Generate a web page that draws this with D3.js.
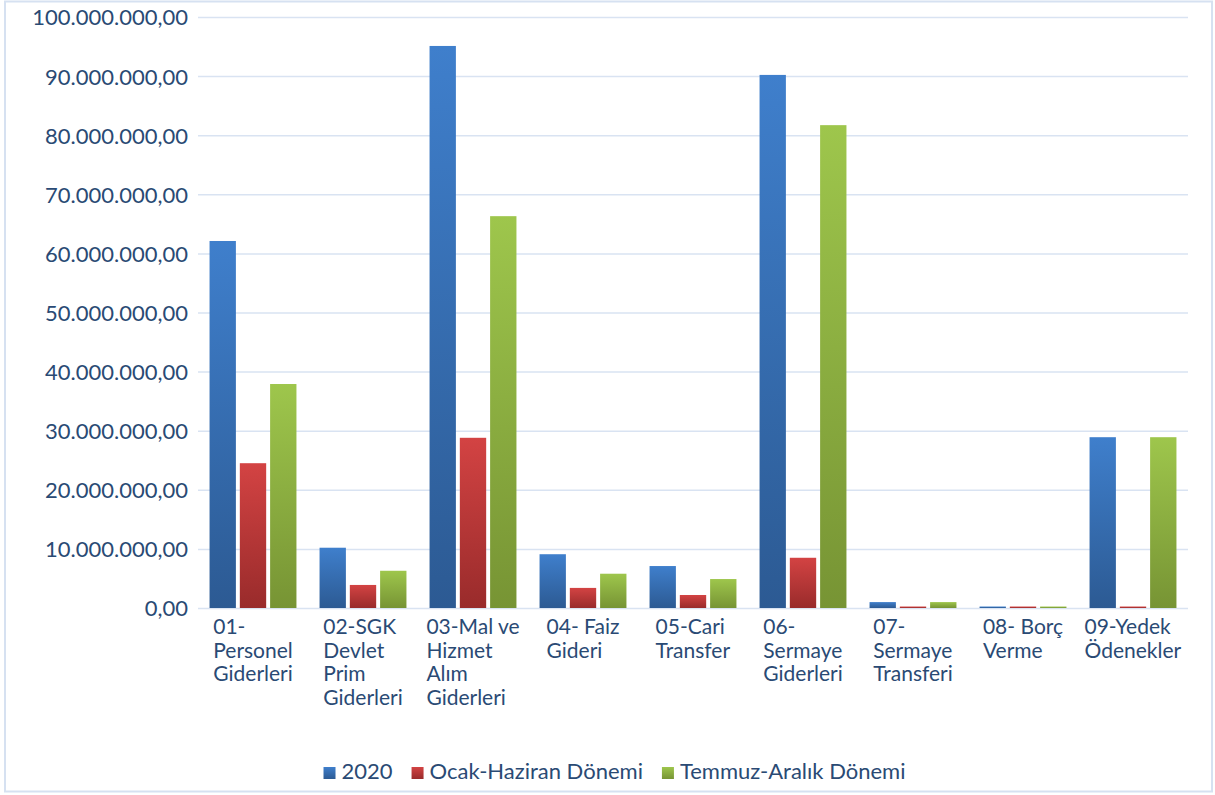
<!DOCTYPE html>
<html>
<head>
<meta charset="utf-8">
<script src="https://cdn.jsdelivr.net/npm/d3@7/dist/d3.min.js"></script>
<style>
  body { margin: 0; background: #fff; }
  text { font-family: Lato, "Open Sans", sans-serif; fill: #2a4a74; }
</style>
</head>
<body>
<div id="chart"></div>
<script>
// 1: DATA
const categories = [
  ["01-", "Personel", "Giderleri"],
  ["02-SGK", "Devlet", "Prim", "Giderleri"],
  ["03-Mal ve", "Hizmet", "Alım", "Giderleri"],
  ["04- Faiz", "Gideri"],
  ["05-Cari", "Transfer"],
  ["06-", "Sermaye", "Giderleri"],
  ["07-", "Sermaye", "Transferi"],
  ["08- Borç", "Verme"],
  ["09-Yedek", "Ödenekler"]
];
const seriesNames = ["2020", "Ocak-Haziran Dönemi", "Temmuz-Aralık Dönemi"];
const values2020 = [62100000, 10200000, 95100000, 9100000, 7100000, 90200000, 1000000, 250000, 28900000];
const valuesOcak = [24500000, 3900000, 28800000, 3400000, 2200000, 8500000, 250000, 250000, 250000];
const valuesTemmuz = [37900000, 6300000, 66300000, 5800000, 4900000, 81700000, 1000000, 250000, 28900000];
const yTicks = [0, 10e6, 20e6, 30e6, 40e6, 50e6, 60e6, 70e6, 80e6, 90e6, 100e6];

const allSeries = [values2020, valuesOcak, valuesTemmuz];
const colors = [
  { top: "#3f7fcc", bottom: "#2c5a93" },
  { top: "#d34343", bottom: "#992b2b" },
  { top: "#9ec64c", bottom: "#779434" }
];

// 2: SVG
const W = 1215, H = 795;
const svg = d3.select("#chart").append("svg")
  .attr("width", W).attr("height", H);

const defs = svg.append("defs");
colors.forEach((c, i) => {
  const g = defs.append("linearGradient")
    .attr("id", "grad" + i)
    .attr("x1", 0).attr("y1", 0).attr("x2", 0).attr("y2", 1);
  g.append("stop").attr("offset", "0%").attr("stop-color", c.top);
  g.append("stop").attr("offset", "100%").attr("stop-color", c.bottom);
});

// chart border
svg.append("rect")
  .attr("x", 5).attr("y", 1.5)
  .attr("width", 1207).attr("height", 790)
  .attr("fill", "none")
  .attr("stroke", "#d6e1f1")
  .attr("stroke-width", 2);

// 3: SCALES
const plotLeft = 198, plotRight = 1188, plotTop = 17, plotBottom = 608;

const x0 = d3.scaleBand()
  .domain(d3.range(categories.length))
  .range([plotLeft, plotRight])
  .paddingInner(0.21)
  .paddingOuter(0.105);

const x1 = d3.scaleBand()
  .domain(d3.range(seriesNames.length))
  .range([0, x0.bandwidth()])
  .paddingInner(0.13);

const y = d3.scaleLinear()
  .domain([0, 100e6])
  .range([plotBottom, plotTop]);

const fmt = v => {
  const s = d3.format(",.2f")(v);
  return s.replace(/,/g, "#").replace(".", ",").replace(/#/g, ".");
};

// 4: GRID + Y AXIS
const yAxis = d3.axisLeft(y)
  .tickValues(yTicks)
  .tickSize(-(plotRight - plotLeft))
  .tickPadding(10)
  .tickFormat(fmt);

const yg = svg.append("g")
  .attr("transform", `translate(${plotLeft},0)`)
  .call(yAxis);
yg.select(".domain").remove();
yg.selectAll(".tick line")
  .attr("stroke", "#d9e3f2")
  .attr("stroke-width", 1.5);
yg.selectAll(".tick text")
  .attr("font-size", 22)
  .attr("dy", "0.36em")
  .style("font-family", "Lato, sans-serif")
  .attr("fill", "#2a4a74");

// 5: BARS
allSeries.forEach((vals, si) => {
  svg.append("g").selectAll("rect")
    .data(vals)
    .join("rect")
    .attr("x", (d, i) => x0(i) + x1(si))
    .attr("width", x1.bandwidth())
    .attr("y", d => y(d))
    .attr("height", d => y(0) - y(d))
    .attr("fill", `url(#grad${si})`);
});

// 6: X LABELS
const labelG = svg.append("g");
categories.forEach((lines, i) => {
  const g = labelG.append("g");
  const t = g.append("text").attr("font-size", 21);
  lines.forEach((ln, k) => {
    t.append("tspan")
      .attr("x", 0)
      .attr("y", 634 + k * 23.5)
      .text(ln);
  });
  const w = t.node().getBBox().width;
  const cx = x0(i) + x0.bandwidth() / 2;
  g.attr("transform", `translate(${cx - w / 2},0)`);
});

// 7: LEGEND
const legend = svg.append("g");
let lx = 0;
seriesNames.forEach((name, i) => {
  const g = legend.append("g").attr("transform", `translate(${lx},0)`);
  g.append("rect")
    .attr("x", 0).attr("y", -12)
    .attr("width", 12).attr("height", 12)
    .attr("fill", `url(#grad${i})`);
  const t = g.append("text")
    .attr("x", 18).attr("y", 0)
    .attr("font-size", 22)
    .text(name);
  lx += 18 + t.node().getComputedTextLength() + 19;
});
const legendW = lx - 19;
legend.attr("transform", `translate(${(W - legendW) / 2 + 7},779)`);
</script>
</body>
</html>
